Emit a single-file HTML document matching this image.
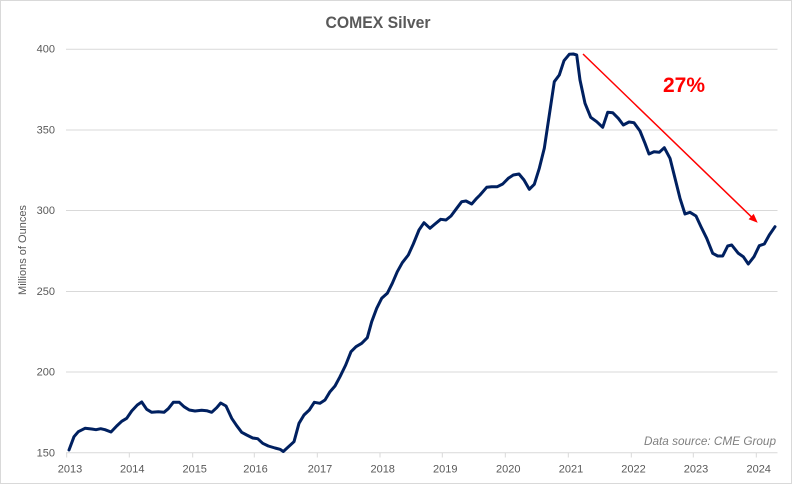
<!DOCTYPE html>
<html>
<head>
<meta charset="utf-8">
<style>
  html, body { margin: 0; padding: 0; background: #fff; }
  svg { display: block; }
  text { font-family: "Liberation Sans", Arial, sans-serif; }
</style>
</head>
<body>
<svg width="793" height="485" viewBox="0 0 793 485" xmlns="http://www.w3.org/2000/svg">
  <rect x="0" y="0" width="793" height="485" fill="#ffffff"/>
  <rect x="0.5" y="0.5" width="791" height="483" fill="none" stroke="#d9d9d9" stroke-width="1"/>

  <!-- Title -->
  <text x="378" y="28" text-anchor="middle" font-size="17" font-weight="bold" fill="#595959" textLength="105" lengthAdjust="spacingAndGlyphs">COMEX Silver</text>

  <!-- Gridlines -->
  <g stroke="#d9d9d9" stroke-width="1">
    <line x1="66" y1="49.3" x2="777.5" y2="49.3"/>
    <line x1="66" y1="130" x2="777.5" y2="130"/>
    <line x1="66" y1="210.5" x2="777.5" y2="210.5"/>
    <line x1="66" y1="291.5" x2="777.5" y2="291.5"/>
    <line x1="66" y1="372" x2="777.5" y2="372"/>
    <line x1="66" y1="452.7" x2="777.5" y2="452.7"/>
  </g>
  <!-- X ticks -->
  <g stroke="#d9d9d9" stroke-width="1">
    <line x1="66.7" y1="452.7" x2="66.7" y2="457.5"/>
    <line x1="129.3" y1="452.7" x2="129.3" y2="457.5"/>
    <line x1="192.7" y1="452.7" x2="192.7" y2="457.5"/>
    <line x1="254.3" y1="452.7" x2="254.3" y2="457.5"/>
    <line x1="317.3" y1="452.7" x2="317.3" y2="457.5"/>
    <line x1="380" y1="452.7" x2="380" y2="457.5"/>
    <line x1="442.3" y1="452.7" x2="442.3" y2="457.5"/>
    <line x1="505.3" y1="452.7" x2="505.3" y2="457.5"/>
    <line x1="568.3" y1="452.7" x2="568.3" y2="457.5"/>
    <line x1="631.3" y1="452.7" x2="631.3" y2="457.5"/>
    <line x1="693.3" y1="452.7" x2="693.3" y2="457.5"/>
    <line x1="756.3" y1="452.7" x2="756.3" y2="457.5"/>
  </g>

  <!-- Y labels -->
  <g font-size="11" fill="#595959" text-anchor="end">
    <text x="55" y="52.5">400</text>
    <text x="55" y="133.5">350</text>
    <text x="55" y="214">300</text>
    <text x="55" y="295">250</text>
    <text x="55" y="375.5">200</text>
    <text x="55" y="456.5">150</text>
  </g>

  <!-- X labels -->
  <g font-size="11" fill="#595959" text-anchor="middle">
    <text x="70" y="472.3">2013</text>
    <text x="132.3" y="472.3">2014</text>
    <text x="194.7" y="472.3">2015</text>
    <text x="255.5" y="472.3">2016</text>
    <text x="320" y="472.3">2017</text>
    <text x="382.7" y="472.3">2018</text>
    <text x="445.3" y="472.3">2019</text>
    <text x="508.3" y="472.3">2020</text>
    <text x="571" y="472.3">2021</text>
    <text x="633.5" y="472.3">2022</text>
    <text x="696" y="472.3">2023</text>
    <text x="758.7" y="472.3">2024</text>
  </g>

  <!-- Y axis title -->
  <text transform="translate(26,250) rotate(-90)" text-anchor="middle" font-size="11" fill="#595959">Millions of Ounces</text>

  <!-- Data line -->
  <polyline fill="none" stroke="#002060" stroke-width="3" stroke-linejoin="round" stroke-linecap="round"
    points="69,450 74,436.7 78.3,431.7 85,428.3 91.7,429 96,429.7 100.7,428.7 105,429.7 111,432 116.7,426 121.7,421.3 126.7,418.3 131.7,411 137.3,405 141.7,402 146.7,409.3 151.7,412.3 158.3,411.7 164,412.3 168.3,408.7 173.3,402.3 179.3,402.3 184,406.7 189.3,410 195,411 201.7,410.3 206.7,410.7 211.7,412.3 216.7,407.7 220.7,403 226,406 231.7,418.3 236.7,425.7 241.7,432.3 246.7,435 252.7,438 257.7,438.7 262.7,443.3 268.3,446 275,448 280,449.3 283.3,451.5 294,441.7 299,423.3 304,415 309.3,410 314.3,402.3 320,403.3 325,400 330,391.7 335,386 340,376.7 345.7,365 351,351.7 356,346.7 361.7,343.3 367.3,337.7 371.7,321.7 376.7,308.3 381.7,298.3 387.3,293.3 392.3,283.3 397.3,271.7 402.3,262.7 408.3,255 413.3,244 419,230 424,222.7 430,228.3 435,224 440.7,219.3 446,220 451,216 456.7,208.3 461.7,201.7 466,201 471.7,204 476.7,198.3 480,195 486.7,187.3 491.7,186.7 497.3,186.7 502.7,184 508.3,178.3 513.3,175 519,174 524,180 529.3,189.3 534.3,184.3 539.3,168.3 544.3,148.3 549.3,115 554.3,81.7 559.3,75 564,60.7 569.3,54.3 573.3,54 576.7,55 580,80 585,103.3 590.7,117.3 596.7,121.7 602.7,127.3 607.7,112.3 612.7,112.7 618.3,118.3 623.3,125 629,122 634,122.7 640,131 645,143.3 649,154 654,151.7 659.3,152.3 664.3,147.7 670,158.3 675,178.3 680,198.3 685,214 690,212.3 696,216 701,226.7 706.7,238.3 712.7,253.3 717.7,256 722.7,256 727.7,246 731.7,245 738.3,253.3 743.3,256.7 748.3,264 754,256.7 759.3,245.7 764.3,244 769.3,235 775,226.7"/>

  <!-- Red arrow -->
  <line x1="583" y1="54" x2="752" y2="217.4" stroke="#ff0000" stroke-width="1.5"/>
  <polygon points="757.7,222.8 748.6,219.2 753.7,213.9" fill="#ff0000"/>

  <!-- 27% label -->
  <text x="684" y="92" text-anchor="middle" font-size="21" font-weight="bold" fill="#ff0000">27%</text>

  <!-- Data source -->
  <text x="776" y="445" text-anchor="end" font-size="11.5" font-style="italic" fill="#7f7f7f" textLength="132" lengthAdjust="spacingAndGlyphs">Data source: CME Group</text>
</svg>
</body>
</html>
